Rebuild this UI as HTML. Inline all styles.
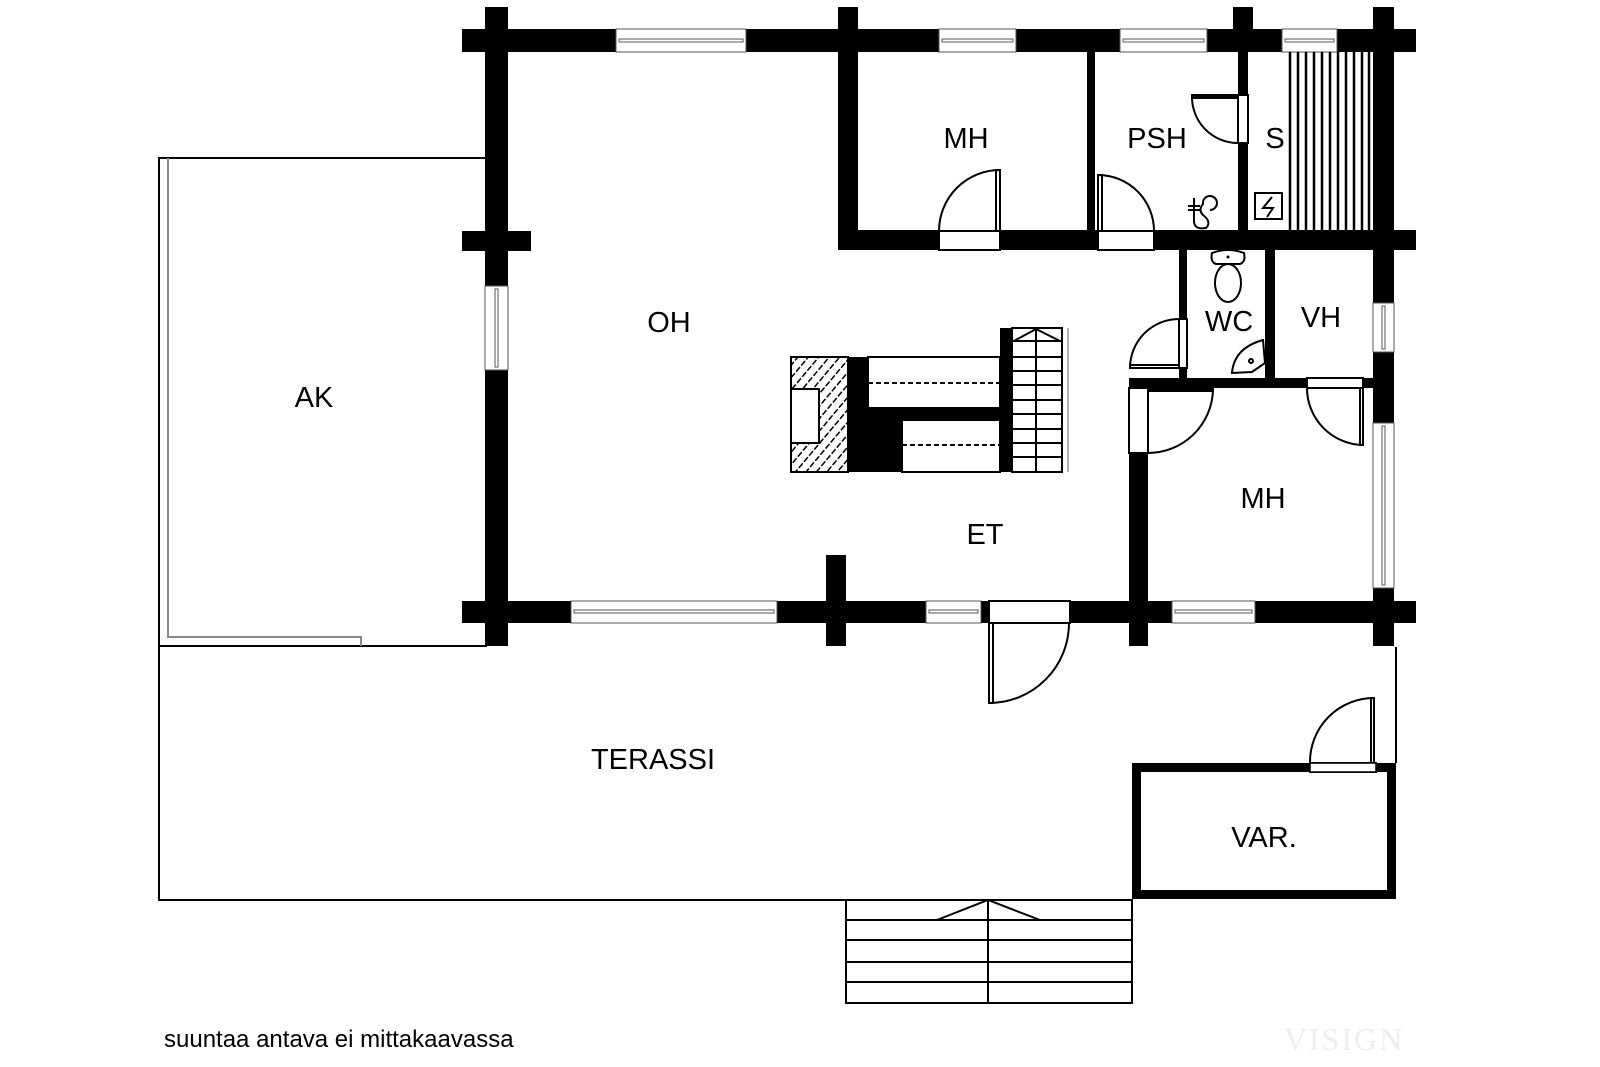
<!DOCTYPE html>
<html><head><meta charset="utf-8"><style>
html,body{margin:0;padding:0;background:#fff;}
svg{display:block;}
text{font-family:"Liberation Sans",sans-serif;fill:#000;}
</style></head><body>
<svg width="1600" height="1067" viewBox="0 0 1600 1067" xmlns="http://www.w3.org/2000/svg">
<rect width="1600" height="1067" fill="#fff"/>
<g fill="none" stroke="#000" stroke-width="2">
<polyline points="487,158 159,158 159,900 1132,900"/>
<line x1="159" y1="646" x2="487" y2="646"/>
<polyline points="1396,647 1396,763"/>
</g>
<polyline points="168,158 168,637 361,637 361,646" fill="none" stroke="#888" stroke-width="2"/>
<g fill="#000">
<rect x="462" y="29" width="954" height="23"/>
<rect x="485" y="7" width="23" height="639"/>
<rect x="838" y="7" width="20" height="243"/>
<rect x="1233" y="7" width="20" height="45"/>
<rect x="1373" y="7" width="21" height="639"/>
<rect x="462" y="231" width="69" height="20"/>
<rect x="838" y="230" width="578" height="20"/>
<rect x="1087" y="52" width="8" height="180"/>
<rect x="1238" y="52" width="10" height="180"/>
<rect x="1179" y="250" width="8" height="128"/>
<rect x="1265" y="250" width="10" height="138"/>
<rect x="1129" y="378" width="264" height="10"/>
<rect x="1129" y="378" width="19" height="268"/>
<rect x="462" y="601" width="954" height="22"/>
<rect x="826" y="555" width="20" height="91"/>
</g>
<g fill="#fff" stroke="#555" stroke-width="1">
<rect x="616" y="29" width="130" height="23"/>
<rect x="939" y="29" width="77" height="23"/>
<rect x="1120" y="29" width="87" height="23"/>
<rect x="1282" y="29" width="55" height="23"/>
<rect x="485" y="286" width="23" height="84"/>
<rect x="1373" y="303" width="21" height="49"/>
<rect x="1373" y="423" width="21" height="165"/>
<rect x="571" y="601" width="206" height="22"/>
<rect x="926" y="601" width="55" height="22"/>
<rect x="1172" y="601" width="83" height="22"/>
</g>
<g stroke="#555" stroke-width="1" fill="none">
<rect x="619" y="39" width="124" height="3"/>
<rect x="942" y="39" width="71" height="3"/>
<rect x="1123" y="39" width="81" height="3"/>
<rect x="1285" y="39" width="49" height="3"/>
<rect x="495" y="289" width="3" height="78"/>
<rect x="1382" y="306" width="3" height="43"/>
<rect x="1382" y="426" width="3" height="159"/>
<rect x="574" y="610" width="200" height="3"/>
<rect x="929" y="610" width="49" height="3"/>
<rect x="1175" y="610" width="77" height="3"/>
</g>
<g fill="#fff" stroke="#000" stroke-width="2">
<rect x="939" y="231" width="61" height="19"/>
<rect x="1098" y="231" width="56" height="19"/>
<rect x="1238" y="95" width="10" height="48"/>
<rect x="1179" y="319" width="8" height="49"/>
<rect x="1129" y="388" width="19" height="65"/>
<rect x="1307" y="378" width="56" height="10"/>
<rect x="989" y="601" width="81" height="22"/>
<rect x="1310" y="763" width="66" height="9"/>
</g>
<g fill="none" stroke="#000" stroke-width="2">
<path d="M1000,231 V170 M939,231 A61,61 0 0 1 1000,170"/><rect x="996" y="170" width="4" height="61"/>
<path d="M1098,231 V175 A56,56 0 0 1 1154,231"/><rect x="1098" y="175" width="4" height="56"/>
<path d="M1238,97 H1192 A46,46 0 0 0 1238,143"/><rect x="1192" y="95" width="46" height="3"/>
<path d="M1179,319 A49,49 0 0 0 1130,368 H1179"/><rect x="1130" y="365" width="49" height="3"/>
<path d="M1148,390 H1213 A65,65 0 0 1 1148,453"/><rect x="1148" y="388" width="65" height="3"/>
<path d="M1363,388 V445 A57,57 0 0 1 1307,388"/><rect x="1360" y="388" width="3" height="57"/>
<path d="M989,623 V703 A80,80 0 0 0 1069,623"/><rect x="989" y="623" width="4" height="80"/>
<path d="M1374,763 V698 A64,64 0 0 0 1310,763"/><rect x="1371" y="698" width="3" height="65"/>
</g>
<rect x="1136.5" y="767.5" width="255" height="127" fill="none" stroke="#000" stroke-width="9"/>
<rect x="1310" y="763" width="66" height="9" fill="#fff" stroke="#000" stroke-width="1.5"/>
<g fill="none" stroke="#000" stroke-width="2">
<rect x="846" y="900" width="286" height="103"/>
<line x1="988" y1="900" x2="988" y2="1003"/>
<line x1="846" y1="920" x2="1132" y2="920"/>
<line x1="846" y1="940" x2="1132" y2="940"/>
<line x1="846" y1="962" x2="1132" y2="962"/>
<line x1="846" y1="982" x2="1132" y2="982"/>
<polyline points="937,920 988,900 1040,920"/>
</g>
<g stroke="#000" stroke-width="2.5">
<line x1="1290" y1="52" x2="1290" y2="230"/><line x1="1298" y1="52" x2="1298" y2="230"/>
<line x1="1306" y1="52" x2="1306" y2="230"/><line x1="1314" y1="52" x2="1314" y2="230"/>
<line x1="1322" y1="52" x2="1322" y2="230"/><line x1="1330" y1="52" x2="1330" y2="230"/>
<line x1="1338" y1="52" x2="1338" y2="230"/><line x1="1346" y1="52" x2="1346" y2="230"/>
<line x1="1354" y1="52" x2="1354" y2="230"/><line x1="1362" y1="52" x2="1362" y2="230"/>
<line x1="1369" y1="52" x2="1369" y2="230"/>
</g>
<g fill="none" stroke="#000" stroke-width="2">
<rect x="1255" y="193" width="27" height="26"/>
<polyline points="1272,197 1263,208 1273,208 1267,217"/>
<line x1="1188" y1="206" x2="1200" y2="206"/><line x1="1188" y1="210" x2="1200" y2="210"/>
<path d="M1194,198 V222 Q1195,230 1206,228 Q1212,222 1203,215 Q1198,210 1203,204 A7,7 0 1 1 1210,210"/>
<path d="M1212,253 Q1210,262 1216,264 H1240 Q1246,262 1244,253 Q1228,247 1212,253 Z"/>
<ellipse cx="1228" cy="283" rx="13" ry="19"/>
<path d="M1263,340 L1265,363 L1252,372 L1232,373 Q1234,348 1263,340 Z"/>
<circle cx="1251" cy="361" r="2"/>
</g>
<circle cx="1228" cy="257" r="1.5" fill="#000"/>
<defs><pattern id="h" width="8" height="8" patternUnits="userSpaceOnUse" patternTransform="rotate(40)"><rect width="8" height="8" fill="#fff"/><line x1="0" y1="0" x2="0" y2="8" stroke="#000" stroke-width="3" stroke-dasharray="5,2"/></pattern></defs>
<rect x="791" y="357" width="57" height="115" fill="url(#h)" stroke="#000" stroke-width="2"/>
<rect x="791" y="389" width="28" height="54" fill="#fff" stroke="#000" stroke-width="2"/>
<g fill="#000">
<rect x="848" y="357" width="20" height="115"/>
<rect x="848" y="408" width="54" height="64"/>
<rect x="848" y="408" width="152" height="12"/>
<rect x="1000" y="328" width="12" height="144"/>
</g>
<g fill="none" stroke="#000" stroke-width="2">
<rect x="868" y="357" width="132" height="51"/>
<rect x="902" y="420" width="98" height="52"/>
<line x1="868" y1="383" x2="1000" y2="383" stroke-dasharray="5,3"/>
<line x1="902" y1="445" x2="1000" y2="445" stroke-dasharray="5,3"/>
<rect x="1012" y="328" width="50" height="144"/>
<line x1="1036" y1="328" x2="1036" y2="472"/>
<line x1="1012" y1="341" x2="1062" y2="341"/>
<line x1="1012" y1="357" x2="1062" y2="357"/>
<line x1="1012" y1="371" x2="1062" y2="371"/>
<line x1="1012" y1="385" x2="1062" y2="385"/>
<line x1="1012" y1="400" x2="1062" y2="400"/>
<line x1="1012" y1="414" x2="1062" y2="414"/>
<line x1="1012" y1="429" x2="1062" y2="429"/>
<line x1="1012" y1="443" x2="1062" y2="443"/>
<line x1="1012" y1="457" x2="1062" y2="457"/>
<polyline points="1014,341 1036,329 1060,341"/>
</g>
<line x1="1068" y1="328" x2="1068" y2="472" stroke="#999" stroke-width="1.5"/>
<g font-size="29" text-anchor="middle">
<text x="669" y="332">OH</text>
<text x="966" y="148">MH</text>
<text x="1157" y="148">PSH</text>
<text x="1275" y="148">S</text>
<text x="1229" y="331">WC</text>
<text x="1321" y="327">VH</text>
<text x="1263" y="508">MH</text>
<text x="985" y="544">ET</text>
<text x="314" y="407">AK</text>
<text x="653" y="769">TERASSI</text>
<text x="1264" y="847">VAR.</text>
</g>
<text x="164" y="1047" font-size="24">suuntaa antava ei mittakaavassa</text>
<text x="1344" y="1050" font-size="32" text-anchor="middle" style="font-family:'Liberation Serif',serif;fill:#eeeeee;letter-spacing:2px">VISIGN</text>
</svg>
</body></html>
